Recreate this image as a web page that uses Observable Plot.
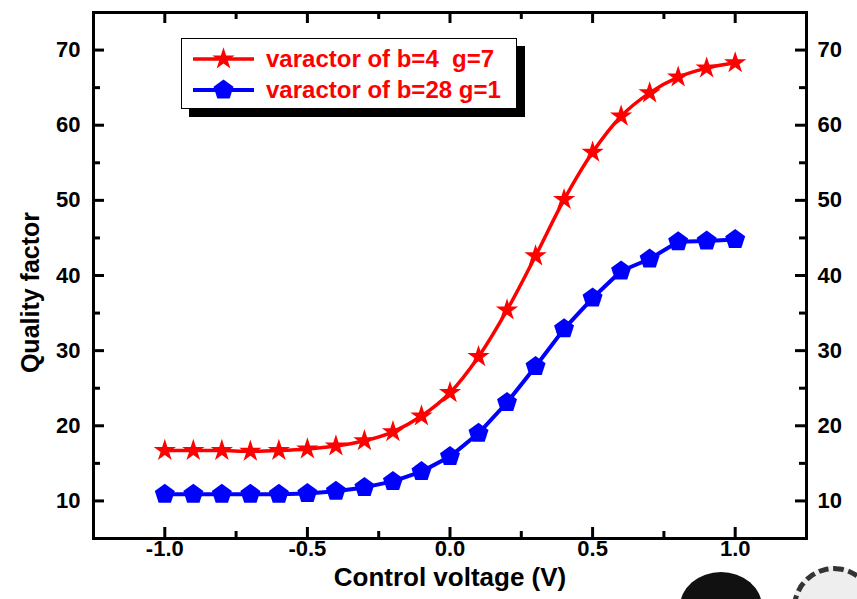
<!DOCTYPE html>
<html>
<head>
<meta charset="utf-8">
<script src="https://cdn.jsdelivr.net/npm/d3@7"></script>
<script src="https://cdn.jsdelivr.net/npm/@observablehq/plot@0.6"></script>
<style>
  html, body { margin: 0; padding: 0; background: #fff; }
  #wrap { position: relative; width: 857px; height: 599px; overflow: hidden; font-family: "Liberation Sans", Arial, sans-serif; }
  #legend { position: absolute; left: 181px; top: 38px; width: 334px; height: 69px; background: #fff;
            border: 1.5px solid #000; box-shadow: 8px 8px 0 #000; }
  #legend svg { position: absolute; left: 0; top: 0; }
  .lt { position: absolute; left: 84px; font-weight: bold; font-size: 24px; color: #ff0000; white-space: pre; line-height: 1; }
  #seal1 { position: absolute; left: 680px; top: 572px; width: 82px; height: 70px; border-radius: 50%; background: #111; }
  #seal2 { position: absolute; left: 792px; top: 566px; width: 84px; height: 84px; border-radius: 50%;
           border: 5px dashed #333; box-sizing: border-box; background: #eee; }
</style>
</head>
<body>
<div id="wrap"></div>
<script>
// ---- data ----
const voltage = [-1.0,-0.9,-0.8,-0.7,-0.6,-0.5,-0.4,-0.3,-0.2,-0.1,0.0,0.1,0.2,0.3,0.4,0.5,0.6,0.7,0.8,0.9,1.0];
const qB4G7  = [16.7,16.7,16.7,16.6,16.7,16.9,17.3,18.0,19.2,21.3,24.4,29.2,35.4,42.6,50.1,56.4,61.2,64.3,66.4,67.6,68.3];
const qB28G1 = [10.9,10.9,10.9,10.9,10.9,11.0,11.3,11.8,12.6,13.9,15.9,19.0,23.1,27.9,32.9,37.0,40.6,42.2,44.5,44.6,44.8];
const seriesNames = ["varactor of b=4  g=7", "varactor of b=28 g=1"];
const xMajor = [-1.0,-0.5,0.0,0.5,1.0];
const xMinor = [-0.75,-0.25,0.25,0.75];
const yMajor = [10,20,30,40,50,60,70];
const yMinor = [15,25,35,45,55,65];
const xTickLabels = ["-1.0","-0.5","0.0","0.5","1.0"];
const yTickLabels = ["10","20","30","40","50","60","70"];
const xTitle = "Control voltage (V)";
const yTitle = "Quality factor";

const red = "#ff0000", blue = "#0000ff";
const W = 857, H = 599, mL = 93, mR = 51, mT = 12, mB = 61;
const PW = W - mL - mR, PH = H - mT - mB;
const major = 11, minor = 7;

const pentagon = {
  draw(ctx, size) {
    const R = Math.sqrt(size / Math.PI);
    for (let k = 0; k < 5; ++k) {
      const a = -Math.PI / 2 + k * 2 * Math.PI / 5;
      const px = R * Math.cos(a), py = R * Math.sin(a);
      if (k === 0) ctx.moveTo(px, py); else ctx.lineTo(px, py);
    }
    ctx.closePath();
  }
};

const dataA = voltage.map((v, i) => ({x: v, y: qB4G7[i]}));
const dataB = voltage.map((v, i) => ({x: v, y: qB28G1[i]}));
const xLab = xMajor.map((v, i) => ({v, t: xTickLabels[i]}));
const yLab = yMajor.map((v, i) => ({v, t: yTickLabels[i]}));

const font = "Liberation Sans, Arial, sans-serif";
const chart = Plot.plot({
  width: W, height: H,
  marginLeft: mL, marginRight: mR, marginTop: mT, marginBottom: mB,
  x: {domain: [-1.25, 1.25], axis: null},
  y: {domain: [5, 75], axis: null},
  style: {fontFamily: font, fontWeight: "bold", color: "#000", background: "transparent", overflow: "visible"},
  marks: [
    Plot.line(dataA, {x: "x", y: "y", stroke: red, strokeWidth: 3.5, curve: "catmull-rom"}),
    Plot.dot(dataA, {x: "x", y: "y", symbol: "star", r: 7, fill: red}),
    Plot.line(dataB, {x: "x", y: "y", stroke: blue, strokeWidth: 4}),
    Plot.dot(dataB, {x: "x", y: "y", symbol: pentagon, r: 10.5, fill: blue}),
    // inward ticks
    Plot.tickX(xMajor, {x: d => d, insetTop: PH - major, strokeWidth: 3}),
    Plot.tickX(xMajor, {x: d => d, insetBottom: PH - major, strokeWidth: 3}),
    Plot.tickX(xMinor, {x: d => d, insetTop: PH - minor, strokeWidth: 3}),
    Plot.tickX(xMinor, {x: d => d, insetBottom: PH - minor, strokeWidth: 3}),
    Plot.tickY(yMajor, {y: d => d, insetRight: PW - major, strokeWidth: 3}),
    Plot.tickY(yMajor, {y: d => d, insetLeft: PW - major, strokeWidth: 3}),
    Plot.tickY(yMinor, {y: d => d, insetRight: PW - minor, strokeWidth: 3}),
    Plot.tickY(yMinor, {y: d => d, insetLeft: PW - minor, strokeWidth: 3}),
    Plot.frame({stroke: "#000", strokeWidth: 3}),
    // tick labels
    Plot.text(xLab, {x: "v", text: "t", frameAnchor: "bottom", dy: 17, fontSize: 22, fontWeight: "bold"}),
    Plot.text(yLab, {y: "v", text: "t", frameAnchor: "left", textAnchor: "end", dx: -13, fontSize: 22, fontWeight: "bold"}),
    Plot.text(yLab, {y: "v", text: "t", frameAnchor: "right", textAnchor: "start", dx: 11, fontSize: 22, fontWeight: "bold"}),
    // titles
    Plot.text([xTitle], {text: d => d, frameAnchor: "bottom", dy: 47, fontSize: 26, fontWeight: "bold"}),
    Plot.text([yTitle], {text: d => d, frameAnchor: "left", textAnchor: "middle", dx: -63, dy: 17, rotate: -90, fontSize: 25, fontWeight: "bold"})
  ]
});

const wrap = document.getElementById("wrap");
wrap.appendChild(chart);

// legend
const legend = document.createElement("div");
legend.id = "legend";
const ns = "http://www.w3.org/2000/svg";
const svg = document.createElementNS(ns, "svg");
svg.setAttribute("width", 80); svg.setAttribute("height", 69);
const rows = [
  {color: red, sym: d3.symbol(d3.symbolStar, Math.PI * 7 * 7)(), cy: 20, w: 3.5},
  {color: blue, sym: d3.symbol(pentagon, Math.PI * 10.5 * 10.5)(), cy: 51, w: 4}
];
rows.forEach((r, i) => {
  const ln = document.createElementNS(ns, "line");
  ln.setAttribute("x1", 11); ln.setAttribute("x2", 72);
  ln.setAttribute("y1", r.cy); ln.setAttribute("y2", r.cy);
  ln.setAttribute("stroke", r.color); ln.setAttribute("stroke-width", r.w);
  svg.appendChild(ln);
  const p = document.createElementNS(ns, "path");
  p.setAttribute("d", r.sym);
  p.setAttribute("transform", `translate(41.5,${r.cy})`);
  p.setAttribute("fill", r.color);
  svg.appendChild(p);
  const t = document.createElement("div");
  t.className = "lt";
  t.style.top = (r.cy - 12.5) + "px";
  t.textContent = seriesNames[i];
  legend.appendChild(t);
});
legend.appendChild(svg);
wrap.appendChild(legend);

const s1 = document.createElement("div"); s1.id = "seal1"; wrap.appendChild(s1);
const s2 = document.createElement("div"); s2.id = "seal2"; wrap.appendChild(s2);
</script>
</body>
</html>
